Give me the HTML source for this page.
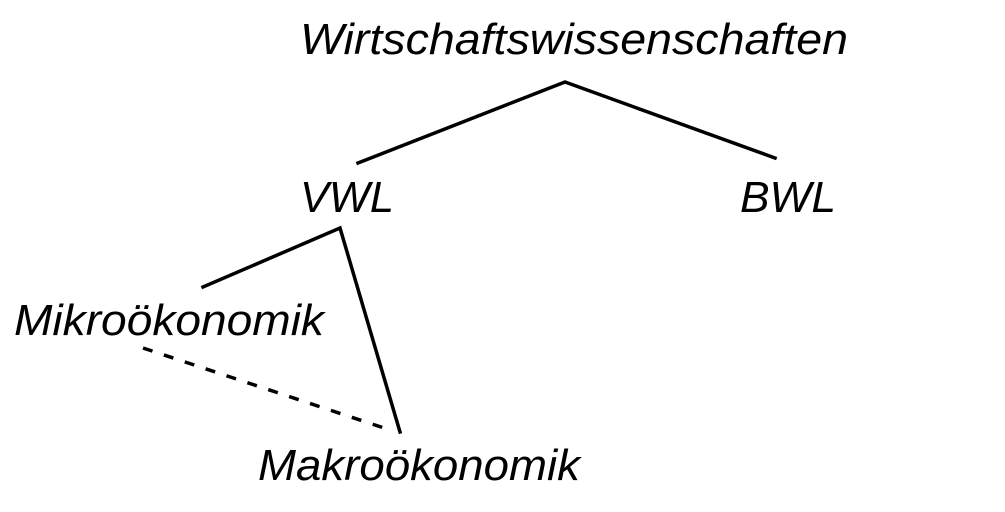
<!DOCTYPE html>
<html><head><meta charset="utf-8"><style>
html,body{margin:0;padding:0;background:#fff;width:1005px;height:512px;overflow:hidden}
text{font-family:"Liberation Sans",Arial,sans-serif;font-style:italic;font-size:44px;fill:#000}
</style></head><body>
<svg width="1005" height="512" viewBox="0 0 1005 512" xmlns="http://www.w3.org/2000/svg">
<text x="300" y="54" textLength="548" lengthAdjust="spacingAndGlyphs">Wirtschaftswissenschaften</text>
<text x="300" y="212" textLength="94" lengthAdjust="spacingAndGlyphs">VWL</text>
<text x="740" y="212" textLength="96" lengthAdjust="spacingAndGlyphs">BWL</text>
<text x="14" y="335" textLength="310" lengthAdjust="spacingAndGlyphs">Mikroökonomik</text>
<text x="258" y="480" textLength="322" lengthAdjust="spacingAndGlyphs">Makroökonomik</text>
<g stroke="#000" stroke-width="3.5" fill="none" stroke-linecap="square">
<polyline points="358,163 565,82 775,158"/>
<polyline points="203,287 340,228 400,432"/>
<line x1="143" y1="348" x2="390" y2="430" stroke-dasharray="10,12" stroke-linecap="butt"/>
</g>
</svg>
</body></html>
